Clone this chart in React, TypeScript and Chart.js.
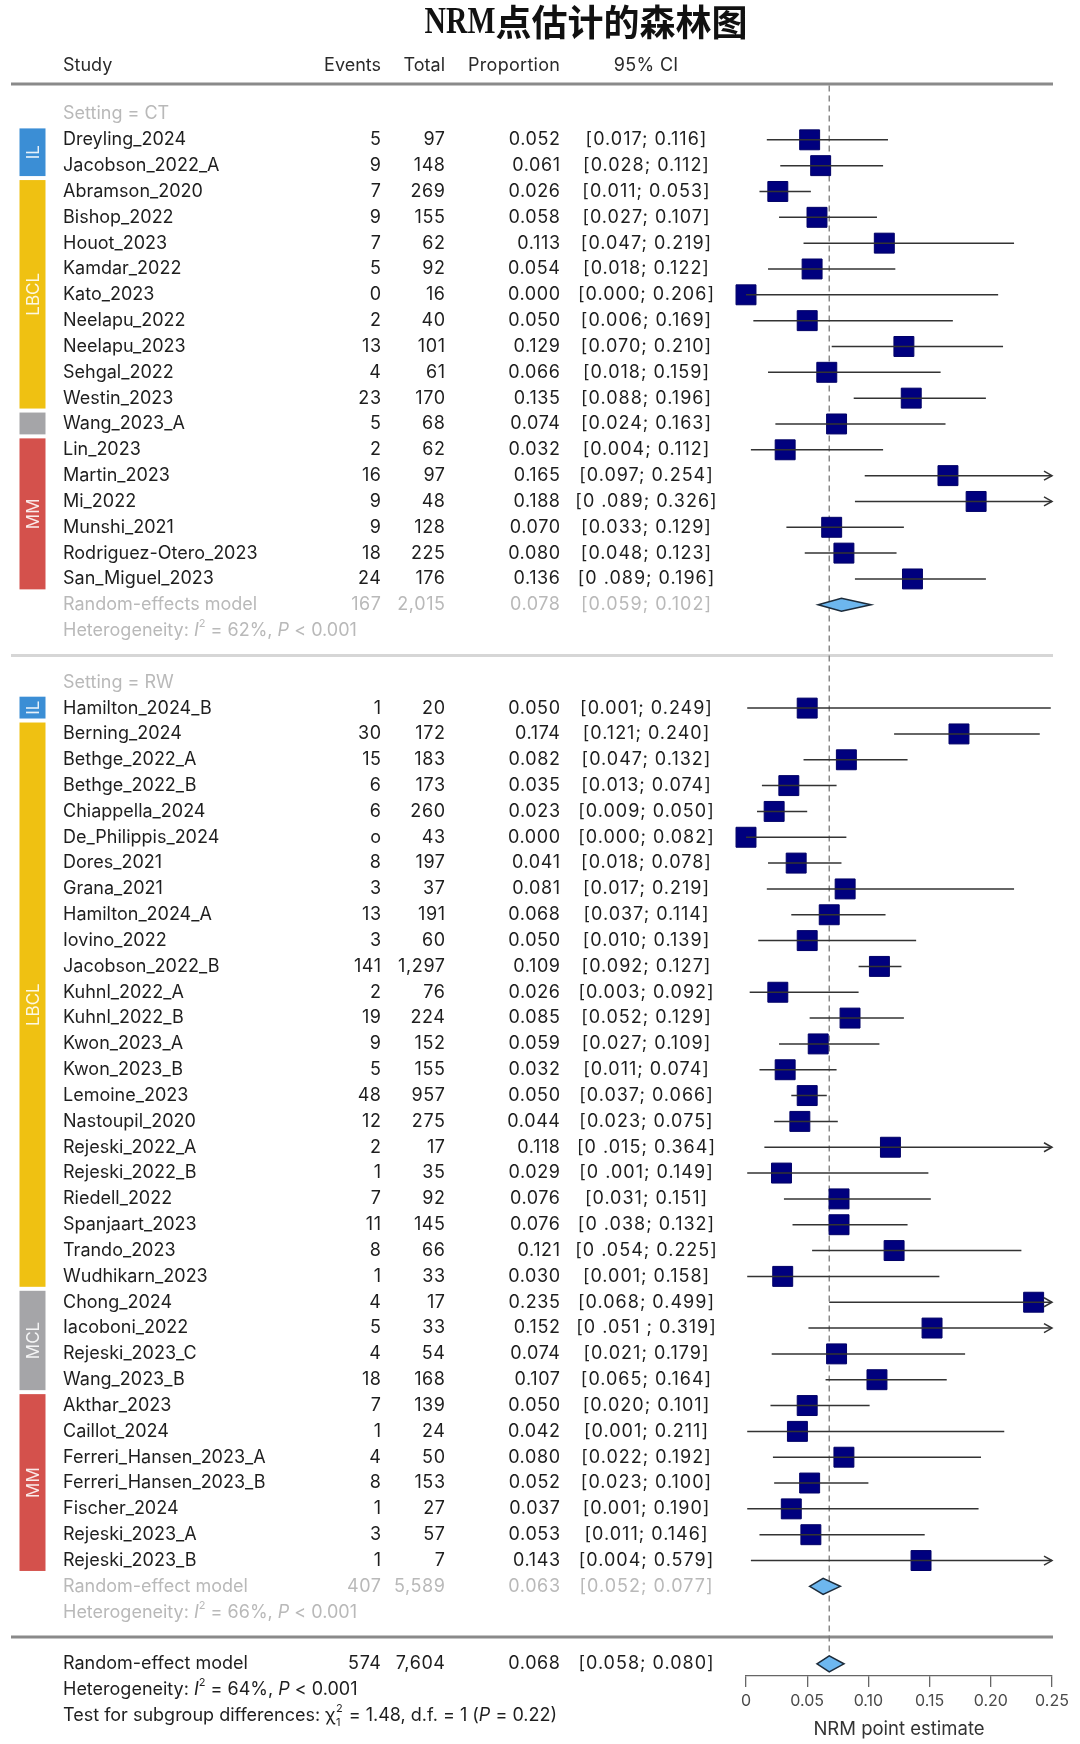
import React, { useEffect, useRef } from 'react';
import { Chart, registerables } from 'chart.js';

Chart.register(...registerables);

// ---------- data ----------
const TITLE_LATIN = 'NRM';
const TITLE_CJK = '点估计的森林图';
const COLUMN_HEADERS = ['Study', 'Events', 'Total', 'Proportion', '95% CI'];
const X_TICK_LABELS = ['0', '0.05', '0.10', '0.15', '0.20', '0.25'];
const X_AXIS_TITLE = 'NRM point estimate';
const SETTING_LABELS = ['Setting = CT', 'Setting = RW'];

const CT_STUDIES = ['Dreyling_2024', 'Jacobson_2022_A', 'Abramson_2020', 'Bishop_2022', 'Houot_2023', 'Kamdar_2022', 'Kato_2023', 'Neelapu_2022', 'Neelapu_2023', 'Sehgal_2022', 'Westin_2023', 'Wang_2023_A', 'Lin_2023', 'Martin_2023', 'Mi_2022', 'Munshi_2021', 'Rodriguez-Otero_2023', 'San_Miguel_2023'];
const CT_EVENTS = ['5', '9', '7', '9', '7', '5', '0', '2', '13', '4', '23', '5', '2', '16', '9', '9', '18', '24'];
const CT_TOTALS = ['97', '148', '269', '155', '62', '92', '16', '40', '101', '61', '170', '68', '62', '97', '48', '128', '225', '176'];
const CT_PROP = [0.052, 0.061, 0.026, 0.058, 0.113, 0.054, 0.0, 0.05, 0.129, 0.066, 0.135, 0.074, 0.032, 0.165, 0.188, 0.07, 0.08, 0.136];
const CT_LOWER = [0.017, 0.028, 0.011, 0.027, 0.047, 0.018, 0.0, 0.006, 0.07, 0.018, 0.088, 0.024, 0.004, 0.097, 0.089, 0.033, 0.048, 0.089];
const CT_UPPER = [0.116, 0.112, 0.053, 0.107, 0.219, 0.122, 0.206, 0.169, 0.21, 0.159, 0.196, 0.163, 0.112, 0.254, 0.326, 0.129, 0.123, 0.196];
const CT_CI_TEXT = ['[0.017; 0.116]', '[0.028; 0.112]', '[0.011; 0.053]', '[0.027; 0.107]', '[0.047; 0.219]', '[0.018; 0.122]', '[0.000; 0.206]', '[0.006; 0.169]', '[0.070; 0.210]', '[0.018; 0.159]', '[0.088; 0.196]', '[0.024; 0.163]', '[0.004; 0.112]', '[0.097; 0.254]', '[0 .089; 0.326]', '[0.033; 0.129]', '[0.048; 0.123]', '[0 .089; 0.196]'];
const CT_GROUP_LABELS = ['IL', 'LBCL', 'MCL', 'MM'];
const CT_GROUP_SIZES = [2, 9, 1, 6];

const RW_STUDIES = ['Hamilton_2024_B', 'Berning_2024', 'Bethge_2022_A', 'Bethge_2022_B', 'Chiappella_2024', 'De_Philippis_2024', 'Dores_2021', 'Grana_2021', 'Hamilton_2024_A', 'Iovino_2022', 'Jacobson_2022_B', 'Kuhnl_2022_A', 'Kuhnl_2022_B', 'Kwon_2023_A', 'Kwon_2023_B', 'Lemoine_2023', 'Nastoupil_2020', 'Rejeski_2022_A', 'Rejeski_2022_B', 'Riedell_2022', 'Spanjaart_2023', 'Trando_2023', 'Wudhikarn_2023', 'Chong_2024', 'Iacoboni_2022', 'Rejeski_2023_C', 'Wang_2023_B', 'Akthar_2023', 'Caillot_2024', 'Ferreri_Hansen_2023_A', 'Ferreri_Hansen_2023_B', 'Fischer_2024', 'Rejeski_2023_A', 'Rejeski_2023_B'];
const RW_EVENTS = ['1', '30', '15', '6', '6', 'o', '8', '3', '13', '3', '141', '2', '19', '9', '5', '48', '12', '2', '1', '7', '11', '8', '1', '4', '5', '4', '18', '7', '1', '4', '8', '1', '3', '1'];
const RW_TOTALS = ['20', '172', '183', '173', '260', '43', '197', '37', '191', '60', '1,297', '76', '224', '152', '155', '957', '275', '17', '35', '92', '145', '66', '33', '17', '33', '54', '168', '139', '24', '50', '153', '27', '57', '7'];
const RW_PROP = [0.05, 0.174, 0.082, 0.035, 0.023, 0.0, 0.041, 0.081, 0.068, 0.05, 0.109, 0.026, 0.085, 0.059, 0.032, 0.05, 0.044, 0.118, 0.029, 0.076, 0.076, 0.121, 0.03, 0.235, 0.152, 0.074, 0.107, 0.05, 0.042, 0.08, 0.052, 0.037, 0.053, 0.143];
const RW_LOWER = [0.001, 0.121, 0.047, 0.013, 0.009, 0.0, 0.018, 0.017, 0.037, 0.01, 0.092, 0.003, 0.052, 0.027, 0.011, 0.037, 0.023, 0.015, 0.001, 0.031, 0.038, 0.054, 0.001, 0.068, 0.051, 0.021, 0.065, 0.02, 0.001, 0.022, 0.023, 0.001, 0.011, 0.004];
const RW_UPPER = [0.249, 0.24, 0.132, 0.074, 0.05, 0.082, 0.078, 0.219, 0.114, 0.139, 0.127, 0.092, 0.129, 0.109, 0.074, 0.066, 0.075, 0.364, 0.149, 0.151, 0.132, 0.225, 0.158, 0.499, 0.319, 0.179, 0.164, 0.101, 0.211, 0.192, 0.1, 0.19, 0.146, 0.579];
const RW_CI_TEXT = ['[0.001; 0.249]', '[0.121; 0.240]', '[0.047; 0.132]', '[0.013; 0.074]', '[0.009; 0.050]', '[0.000; 0.082]', '[0.018; 0.078]', '[0.017; 0.219]', '[0.037; 0.114]', '[0.010; 0.139]', '[0.092; 0.127]', '[0.003; 0.092]', '[0.052; 0.129]', '[0.027; 0.109]', '[0.011; 0.074]', '[0.037; 0.066]', '[0.023; 0.075]', '[0 .015; 0.364]', '[0 .001; 0.149]', '[0.031; 0.151]', '[0 .038; 0.132]', '[0 .054; 0.225]', '[0.001; 0.158]', '[0.068; 0.499]', '[0 .051 ; 0.319]', '[0.021; 0.179]', '[0.065; 0.164]', '[0.020; 0.101]', '[0.001; 0.211]', '[0.022; 0.192]', '[0.023; 0.100]', '[0.001; 0.190]', '[0.011; 0.146]', '[0.004; 0.579]'];
const RW_GROUP_LABELS = ['IL', 'LBCL', 'MCL', 'MM'];
const RW_GROUP_SIZES = [1, 22, 4, 7];

// summaries: CT subgroup, RW subgroup, overall
const SUMMARY_LABELS = ['Random-effects model', 'Random-effect model', 'Random-effect model'];
const SUMMARY_EVENTS = ['167', '407', '574'];
const SUMMARY_TOTALS = ['2,015', '5,589', '7,604'];
const SUMMARY_EST = [0.078, 0.063, 0.068];
const SUMMARY_LOWER = [0.059, 0.052, 0.058];
const SUMMARY_UPPER = [0.102, 0.077, 0.08];
const SUMMARY_CI_TEXT = ['[0.059; 0.102]', '[0.052; 0.077]', '[0.058; 0.080]'];
const HET_I2 = ['62%', '66%', '64%'];
const HET_P = ['< 0.001', '< 0.001', '< 0.001'];
const TEST_CHI2 = '1.48';
const TEST_DF = '1';
const TEST_P = '0.22';

// ---------- layout / style ----------
const W = 1080;
const H = 1744;
const X_MIN = 0;
const X_MAX = 0.25;
const Y_MIN = -1.161;
const Y_MAX = 60.47;
const TITLE_ROW = -3.56;
const HEADER_ROW = -1.88;

const CT_HEADER = 0;
const CT_START = CT_HEADER + 1;
const CT_MODEL = CT_START + CT_STUDIES.length;
const CT_HET = CT_MODEL + 1;
const SEP1 = CT_HET + 1;
const RW_HEADER = SEP1 + 1;
const RW_START = RW_HEADER + 1;
const RW_MODEL = RW_START + RW_STUDIES.length;
const RW_HET = RW_MODEL + 1;
const SEP2 = RW_HET + 1;
const OVERALL = SEP2 + 1;
const OVERALL_HET = OVERALL + 1;
const TEST_ROW = OVERALL_HET + 1;

const FONT = '"Inter", "Noto Sans", sans-serif';
const DARK = '#1e1e1e';
const GRAY = '#b9b9b9';
const COL_STUDY = 63;
const COL_EVENTS = 381;
const COL_TOTAL = 445;
const COL_PROP = 560;
const COL_CI = 646;
const NUM_SPACING = 0.6;
const CI_SPACING = 1.0;
const GROUP_COLORS: Record<string, string> = { IL: '#3b8ed5', LBCL: '#efc112', MCL: '#a5a5a8', MM: '#d4514c' };
const SQUARE_COLOR = '#00007e';
const DIAMOND_FILL = '#6db7ef';
const DIAMOND_STROKE = '#1c2b3a';
const LINE_COLOR = '#333333';

const f = (size: number, style = '') => `${style} ${size}px ${FONT}`.trim();

function drawText(ctx: CanvasRenderingContext2D, s: string, x: number, y: number, align: CanvasTextAlign, color: string, font: string, spacing = 0) {
  ctx.font = font;
  ctx.fillStyle = color;
  ctx.textAlign = align;
  ctx.textBaseline = 'middle';
  (ctx as any).letterSpacing = spacing + 'px';
  // letterSpacing adds trailing space after last glyph; compensate for right/center alignment
  let dx = 0;
  if (spacing) {
    if (align === 'right') dx = spacing;
    else if (align === 'center') dx = spacing / 2;
  }
  ctx.fillText(s, x + dx, y);
  (ctx as any).letterSpacing = '0px';
}

function drawRich(ctx: CanvasRenderingContext2D, x: number, y: number, color: string, parts: Array<[string, string, number]>) {
  let cx = x;
  ctx.fillStyle = color;
  ctx.textAlign = 'left';
  ctx.textBaseline = 'middle';
  for (const [s, font, dy] of parts) {
    ctx.font = font;
    ctx.fillText(s, cx, y + dy);
    cx += ctx.measureText(s).width;
  }
  return cx;
}

function drawHet(ctx: CanvasRenderingContext2D, y: number, i2: string, p: string, color: string) {
  drawRich(ctx, COL_STUDY, y, color, [
    ['Heterogeneity: ', f(18), 0],
    ['I', f(18, 'italic'), 0],
    ['2', f(11), -7],
    [' = ' + i2 + ', ', f(18), 0],
    ['P', f(18, 'italic'), 0],
    [' ' + p, f(18), 0],
  ]);
}

function drawDiamond(ctx: CanvasRenderingContext2D, xs: any, y: number, est: number, lo: number, hi: number, h: number) {
  const xl = xs.getPixelForValue(lo);
  const xc = xs.getPixelForValue(est);
  const xr = xs.getPixelForValue(hi);
  ctx.beginPath();
  ctx.moveTo(xl, y);
  ctx.lineTo(xc, y - h);
  ctx.lineTo(xr, y);
  ctx.lineTo(xc, y + h);
  ctx.closePath();
  ctx.fillStyle = DIAMOND_FILL;
  ctx.fill();
  ctx.lineWidth = 1.6;
  ctx.strokeStyle = DIAMOND_STROKE;
  ctx.stroke();
}

function drawCI(ctx: CanvasRenderingContext2D, xs: any, y: number, lo: number, hi: number) {
  const xl = xs.getPixelForValue(Math.max(lo, X_MIN));
  const xr = xs.getPixelForValue(Math.min(hi, X_MAX));
  ctx.strokeStyle = LINE_COLOR;
  ctx.lineWidth = 1.5;
  ctx.beginPath();
  ctx.moveTo(xl, y);
  ctx.lineTo(xr, y);
  ctx.stroke();
  if (hi > X_MAX) {
    ctx.beginPath();
    ctx.moveTo(xr - 8, y - 4.5);
    ctx.lineTo(xr, y);
    ctx.lineTo(xr - 8, y + 4.5);
    ctx.stroke();
  }
}

function drawGroupBars(ctx: CanvasRenderingContext2D, ys: any, start: number, labels: string[], sizes: number[]) {
  let r = start;
  labels.forEach((lab, i) => {
    const top = ys.getPixelForValue(r - 0.5) + 1.5;
    const bot = ys.getPixelForValue(r + sizes[i] - 0.5) - 2.5;
    ctx.fillStyle = GROUP_COLORS[lab];
    ctx.fillRect(19.5, top, 26, bot - top);
    ctx.font = f(17);
    const tw = ctx.measureText(lab).width;
    if (tw < bot - top - 4) {
      ctx.save();
      ctx.translate(33, (top + bot) / 2);
      ctx.rotate(-Math.PI / 2);
      ctx.fillStyle = 'rgba(255,255,255,0.88)';
      ctx.textAlign = 'center';
      ctx.textBaseline = 'middle';
      ctx.fillText(lab, 0, 1);
      ctx.restore();
    }
    r += sizes[i];
  });
}

const forestPlugin = {
  id: 'forestPlugin',
  beforeDatasetsDraw(chart: any) {
    const { ctx, scales } = chart;
    const xs = scales.x;
    const ys = scales.y;
    ctx.save();
    const hline = (y: number, color: string) => {
      ctx.strokeStyle = color;
      ctx.lineWidth = 3;
      ctx.beginPath();
      ctx.moveTo(11, y);
      ctx.lineTo(1053, y);
      ctx.stroke();
    };
    hline(ys.getPixelForValue(Y_MIN), '#8a8a8a');
    hline(ys.getPixelForValue(SEP1) - 1, '#d6d6d6');
    hline(ys.getPixelForValue(SEP2) - 1, '#8a8a8a');
    const xd = xs.getPixelForValue(SUMMARY_EST[2]);
    ctx.strokeStyle = '#7a7a7a';
    ctx.lineWidth = 1.3;
    ctx.setLineDash([6, 4]);
    ctx.beginPath();
    ctx.moveTo(xd, ys.getPixelForValue(Y_MIN) + 1.5);
    ctx.lineTo(xd, ys.getPixelForValue(OVERALL) - 8);
    ctx.stroke();
    ctx.setLineDash([]);
    ctx.restore();
  },
  afterDatasetsDraw(chart: any) {
    const { ctx, scales } = chart;
    const xs = scales.x;
    const ys = scales.y;
    ctx.save();
    CT_STUDIES.forEach((_, i) => drawCI(ctx, xs, ys.getPixelForValue(CT_START + i), CT_LOWER[i], CT_UPPER[i]));
    RW_STUDIES.forEach((_, i) => drawCI(ctx, xs, ys.getPixelForValue(RW_START + i), RW_LOWER[i], RW_UPPER[i]));
    [CT_MODEL, RW_MODEL, OVERALL].forEach((row, k) =>
      drawDiamond(ctx, xs, ys.getPixelForValue(row), SUMMARY_EST[k], SUMMARY_LOWER[k], SUMMARY_UPPER[k], k === 0 ? 6.5 : 8)
    );
    ctx.restore();
  },
  afterDraw(chart: any) {
    const { ctx, scales } = chart;
    const ys = scales.y;
    const py = (r: number) => ys.getPixelForValue(r);
    ctx.save();

    // title
    const ty = py(TITLE_ROW);
    ctx.textBaseline = 'middle';
    ctx.font = `bold 38px "Liberation Serif", serif`;
    const wLatin = ctx.measureText(TITLE_LATIN).width * 0.78;
    ctx.font = `bold 36px "Noto Sans CJK SC", sans-serif`;
    const wCjk = ctx.measureText(TITLE_CJK).width;
    const tx0 = 586 - (wLatin + wCjk) / 2;
    ctx.save();
    ctx.translate(tx0, ty);
    ctx.scale(0.78, 1);
    ctx.font = `bold 38px "Liberation Serif", serif`;
    ctx.fillStyle = '#111';
    ctx.textAlign = 'left';
    ctx.fillText(TITLE_LATIN, 0, 1);
    ctx.restore();
    ctx.font = `bold 36px "Noto Sans CJK SC", sans-serif`;
    ctx.fillStyle = '#111';
    ctx.textAlign = 'left';
    ctx.fillText(TITLE_CJK, tx0 + wLatin, ty);

    // column headers
    const hy = py(HEADER_ROW);
    drawText(ctx, COLUMN_HEADERS[0], COL_STUDY, hy, 'left', '#2a2a2a', f(18));
    drawText(ctx, COLUMN_HEADERS[1], COL_EVENTS, hy, 'right', '#2a2a2a', f(18));
    drawText(ctx, COLUMN_HEADERS[2], COL_TOTAL, hy, 'right', '#2a2a2a', f(18));
    drawText(ctx, COLUMN_HEADERS[3], COL_PROP, hy, 'right', '#2a2a2a', f(18), 0.3);
    drawText(ctx, COLUMN_HEADERS[4], COL_CI, hy, 'center', '#2a2a2a', f(18), 0.3);

    const studyRow = (y: number, name: string, ev: string, tot: string, prop: string, ci: string, color: string) => {
      drawText(ctx, name, COL_STUDY, y, 'left', color, f(18));
      drawText(ctx, ev, COL_EVENTS, y, 'right', color, f(18), NUM_SPACING);
      drawText(ctx, tot, COL_TOTAL, y, 'right', color, f(18), NUM_SPACING);
      drawText(ctx, prop, COL_PROP, y, 'right', color, f(18), NUM_SPACING);
      drawText(ctx, ci, COL_CI, y, 'center', color, f(18), CI_SPACING);
    };

    // CT section
    drawText(ctx, SETTING_LABELS[0], COL_STUDY, py(CT_HEADER), 'left', GRAY, f(18));
    CT_STUDIES.forEach((s, i) =>
      studyRow(py(CT_START + i), s, CT_EVENTS[i], CT_TOTALS[i], CT_PROP[i].toFixed(3), CT_CI_TEXT[i], DARK)
    );
    studyRow(py(CT_MODEL), SUMMARY_LABELS[0], SUMMARY_EVENTS[0], SUMMARY_TOTALS[0], SUMMARY_EST[0].toFixed(3), SUMMARY_CI_TEXT[0], GRAY);
    drawHet(ctx, py(CT_HET), HET_I2[0], HET_P[0], GRAY);

    // RW section
    drawText(ctx, SETTING_LABELS[1], COL_STUDY, py(RW_HEADER), 'left', GRAY, f(18));
    RW_STUDIES.forEach((s, i) =>
      studyRow(py(RW_START + i), s, RW_EVENTS[i], RW_TOTALS[i], RW_PROP[i].toFixed(3), RW_CI_TEXT[i], DARK)
    );
    studyRow(py(RW_MODEL), SUMMARY_LABELS[1], SUMMARY_EVENTS[1], SUMMARY_TOTALS[1], SUMMARY_EST[1].toFixed(3), SUMMARY_CI_TEXT[1], GRAY);
    drawHet(ctx, py(RW_HET), HET_I2[1], HET_P[1], GRAY);

    // overall
    studyRow(py(OVERALL), SUMMARY_LABELS[2], SUMMARY_EVENTS[2], SUMMARY_TOTALS[2], SUMMARY_EST[2].toFixed(3), SUMMARY_CI_TEXT[2], DARK);
    drawHet(ctx, py(OVERALL_HET), HET_I2[2], HET_P[2], DARK);

    // test for subgroup differences
    const yt = py(TEST_ROW);
    let cx = drawRich(ctx, COL_STUDY, yt, DARK, [
      ['Test for subgroup differences: ', f(18), 0],
      ['χ', f(18), 0],
    ]);
    ctx.font = f(11);
    ctx.fillText('2', cx + 0.5, yt - 7);
    ctx.fillText('1', cx + 0.5, yt + 7);
    cx += ctx.measureText('2').width + 1.5;
    drawRich(ctx, cx, yt, DARK, [
      [' = ' + TEST_CHI2 + ', d.f. = ' + TEST_DF + ' (', f(18), 0],
      ['P', f(18, 'italic'), 0],
      [' = ' + TEST_P + ')', f(18), 0],
    ]);

    // colored subgroup bars
    drawGroupBars(ctx, ys, CT_START, CT_GROUP_LABELS, CT_GROUP_SIZES);
    drawGroupBars(ctx, ys, RW_START, RW_GROUP_LABELS, RW_GROUP_SIZES);

    ctx.restore();
  },
};

export default function App() {
  const canvasRef = useRef<HTMLCanvasElement | null>(null);

  useEffect(() => {
    const canvas = canvasRef.current;
    if (!canvas) return;
    const points = [
      ...CT_PROP.map((v, i) => ({ x: v, y: CT_START + i })),
      ...RW_PROP.map((v, i) => ({ x: v, y: RW_START + i })),
    ];
    const chart = new Chart(canvas, {
      type: 'scatter',
      data: {
        datasets: [
          {
            label: 'Study proportion',
            data: points,
            pointStyle: 'rect',
            pointRadius: 14.1,
            pointHoverRadius: 14.1,
            backgroundColor: SQUARE_COLOR,
            borderColor: '#000066',
            borderWidth: 1,
            clip: false as any,
          },
        ],
      },
      options: {
        responsive: false,
        maintainAspectRatio: false,
        animation: false,
        devicePixelRatio: 1,
        events: [],
        layout: { padding: { left: 746, right: W - 1052, top: 84, bottom: 0 } },
        plugins: { legend: { display: false }, tooltip: { enabled: false }, title: { display: false } },
        scales: {
          x: {
            type: 'linear',
            position: 'bottom',
            min: X_MIN,
            max: X_MAX,
            afterFit: (scale: any) => {
              scale.height = 68;
            },
            ticks: {
              stepSize: 0.05,
              autoSkip: false,
              maxRotation: 0,
              padding: 5,
              color: '#4a4a4a',
              font: { family: FONT, size: 16 },
              callback: (_v: any, i: number) => X_TICK_LABELS[i],
            },
            grid: { drawOnChartArea: false, drawTicks: true, tickLength: 11, color: '#666', lineWidth: 1.3 },
            border: { display: true, color: '#666', width: 1.3 },
            title: {
              display: true,
              text: X_AXIS_TITLE,
              color: '#333',
              font: { family: FONT, size: 18.5 },
              padding: { top: 0, bottom: 3 },
            },
          },
          y: { type: 'linear', display: false, reverse: true, min: Y_MIN, max: Y_MAX },
        },
      },
      plugins: [forestPlugin],
    });
    return () => chart.destroy();
  }, []);

  return (
    <div style={{ position: 'absolute', left: 0, top: 0, width: W, height: H, background: '#fff' }}>
      <canvas ref={canvasRef} width={W} height={H} style={{ display: 'block', width: W, height: H }} />
    </div>
  );
}
